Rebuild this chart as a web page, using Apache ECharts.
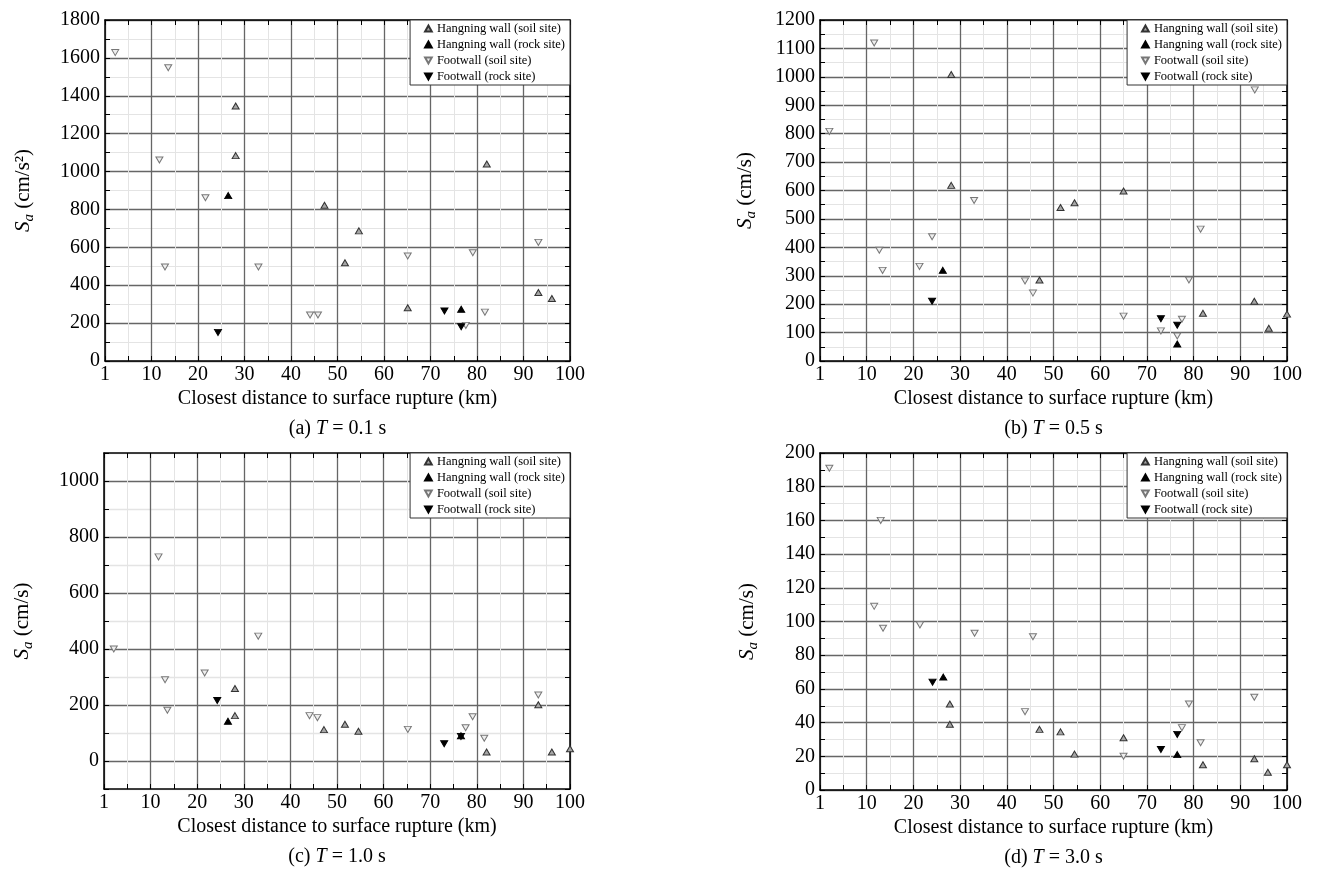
<!DOCTYPE html>
<html>
<head>
<meta charset="utf-8">
<title>Sa - closest distance</title>
<script src="https://cdn.jsdelivr.net/npm/echarts@6/dist/echarts.min.js"></script>
<style>
html,body{margin:0;padding:0;background:#fff;}
#main{width:1317px;height:872px;}
</style>
</head>
<body>
<div id="main"></div>
<script>
// legend / series names
var seriesNames = ['Hangning wall (soil site)', 'Hangning wall (rock site)', 'Footwall (soil site)', 'Footwall (rock site)'];
// x tick labels (the first tick is written as 1)
var xTickLabels = ['1', '10', '20', '30', '40', '50', '60', '70', '80', '90', '100'];
// y tick labels of panel (c)
var yTickLabelsC = ['0', '200', '400', '600', '800', '1000'];

// (a) T = 0.1 s  [distance km, Sa cm/s2]
var hwSoilA = [[28.1,1346],[28.1,1084],[47.2,822],[51.6,519],[54.6,687],[65.1,281],[82.1,1040],[93.2,362],[96.1,330]];
var hwRockA = [[26.5,873],[76.6,273]];
var fwSoilA = [[2.2,1628],[11.7,1061],[12.9,496],[13.6,1548],[21.6,862],[33.0,496],[44.1,243],[45.8,243],[65.1,554],[77.6,188],[79.1,571],[81.7,258],[93.2,626]];
var fwRockA = [[24.3,151],[73.0,264],[76.6,181]];

// (b) T = 0.5 s
var hwSoilB = [[28.1,1008],[28.1,618],[47.0,285],[51.5,540],[54.5,557],[65.0,598],[82.0,168],[93.0,210],[96.1,115],[100,165]];
var hwRockB = [[26.3,319],[76.5,60]];
var fwSoilB = [[2.0,808],[11.6,1119],[12.7,390],[13.4,319],[21.3,333],[24.0,437],[33.0,565],[43.9,282],[45.6,239],[65.0,158],[73.0,106],[76.5,88],[77.5,147],[79.0,285],[81.5,464],[93.1,954]];
var fwRockB = [[24.0,210],[73.0,149],[76.5,126]];

// (c) T = 1.0 s
var hwSoilC = [[28.1,259],[28.1,162],[47.2,112],[51.7,131],[54.6,106],[82.1,32],[93.2,201],[96.1,32],[100,44]];
var hwRockC = [[26.6,142],[76.6,90]];
var fwSoilC = [[2.1,400],[11.7,729],[13.1,290],[13.6,181],[21.6,314],[33.1,446],[44.1,162],[45.8,155],[65.2,113],[77.6,119],[79.1,158],[81.6,81],[93.2,236]];
var fwRockC = [[24.3,216],[73.0,62],[76.6,88]];

// (d) T = 3.0 s
var hwSoilD = [[27.8,51],[27.8,39],[47.0,36],[51.5,34.5],[54.5,21.3],[65.0,31],[82.0,15],[93.0,18.5],[95.9,10.5],[100,15]];
var hwRockD = [[26.4,67],[76.5,21]];
var fwSoilD = [[2.0,191],[11.6,109],[13.0,160],[13.5,96],[21.4,98],[33.1,93],[43.9,46.5],[45.6,91],[65.0,20],[77.5,37],[79.0,51],[81.5,28],[93.0,55]];
var fwRockD = [[24.1,64],[73.0,24],[76.5,33]];

var fontFamily = '"Liberation Serif", "Times New Roman", serif';
var upTri = 'path://M5,0L10,9L0,9Z';
var downTri = 'path://M0,0L10,0L5,9Z';
var seriesStyles = [
	{symbol: upTri, color: '#a6a6a6', border: '#333'},
	{symbol: upTri, color: '#000', border: '#000'},
	{symbol: downTri, color: '#eeeeee', border: '#777'},
	{symbol: downTri, color: '#000', border: '#000'}
];

// layout of the four panels
var panels = [
	{grid: {left: 105, top: 20, width: 465, height: 341}, yMin: 0, yMax: 1800, yStep: 200, unit: '(cm/s²)', nameGap: 68,
		title: '(a) {i|T} = 0.1 s', legendRight: 747, data: [hwSoilA, hwRockA, fwSoilA, fwRockA]},
	{grid: {left: 820, top: 20, width: 467, height: 341}, yMin: 0, yMax: 1200, yStep: 100, unit: '(cm/s)', nameGap: 61,
		title: '(b) {i|T} = 0.5 s', legendRight: 30, data: [hwSoilB, hwRockB, fwSoilB, fwRockB]},
	{grid: {left: 104, top: 453, width: 466, height: 336}, yMin: -100, yMax: 1100, yStep: 100, unit: '(cm/s)', nameGap: 68,
		title: '(c) {i|T} = 1.0 s', legendRight: 747, data: [hwSoilC, hwRockC, fwSoilC, fwRockC], alternate: true},
	{grid: {left: 820, top: 453, width: 467, height: 337}, yMin: 0, yMax: 200, yStep: 20, unit: '(cm/s)', nameGap: 59,
		title: '(d) {i|T} = 3.0 s', legendRight: 30, data: [hwSoilD, hwRockD, fwSoilD, fwRockD]}
];

var majorGrid = '#666';
var minorGrid = '#e4e4e4';

var option = {
	backgroundColor: '#fff',
	animation: false,
	textStyle: {fontFamily: fontFamily},
	title: [], legend: [], grid: [], xAxis: [], yAxis: [], series: []
};

panels.forEach(function(p, i){
	option.grid.push({left: p.grid.left, top: p.grid.top, width: p.grid.width, height: p.grid.height, containLabel: false});

	//横轴 下
	option.xAxis.push({
		type: 'value', gridIndex: i, min: 0, max: 100, interval: 10, position: 'bottom',
		name: 'Closest distance to surface rupture (km)', nameLocation: 'middle', nameGap: 28,
		nameTextStyle: {fontSize: 20, color: '#000', fontFamily: fontFamily},
		axisLine: {show: true, onZero: false, lineStyle: {color: '#000', width: 1.5}},
		axisTick: {show: true, inside: true, length: 5, lineStyle: {color: '#000'}},
		minorTick: {show: true, splitNumber: 2, length: 5, lineStyle: {color: '#000'}},
		axisLabel: {margin: 4, fontSize: 20, color: '#000', fontFamily: fontFamily,
			formatter: function(v){ return xTickLabels[Math.round(v / 10)]; }},
		splitLine: {show: true, lineStyle: {color: majorGrid, width: 1.3}},
		minorSplitLine: {show: true, lineStyle: {color: minorGrid, width: 1}}
	});
	//横轴 上（只画框和刻度）
	option.xAxis.push({
		type: 'value', gridIndex: i, min: 0, max: 100, interval: 10, position: 'top',
		axisLine: {show: true, onZero: false, lineStyle: {color: '#000', width: 1.5}},
		axisTick: {show: true, inside: true, length: 5, lineStyle: {color: '#000'}},
		minorTick: {show: true, splitNumber: 2, length: 5, lineStyle: {color: '#000'}},
		axisLabel: {show: false}, splitLine: {show: false}
	});

	var yLabel = {margin: 5, fontSize: 20, color: '#000', fontFamily: fontFamily,
		formatter: function(v){ return String(v); }};
	if (p.alternate) {
		yLabel.formatter = function(v){ return yTickLabelsC.indexOf(String(v)) >= 0 ? String(v) : ''; };
	}
	//纵轴 左
	option.yAxis.push({
		type: 'value', gridIndex: i, min: p.yMin, max: p.yMax, interval: p.yStep, position: 'left',
		name: '{s|S}{sub|a} ' + p.unit, nameLocation: 'middle', nameRotate: 90, nameGap: p.nameGap,
		nameTextStyle: {fontSize: 21, color: '#000', fontFamily: fontFamily, lineHeight: 28,
			rich: {
				s: {fontSize: 21, fontStyle: 'italic', fontFamily: fontFamily, lineHeight: 28},
				sub: {fontSize: 15, fontStyle: 'italic', fontFamily: fontFamily, lineHeight: 28, verticalAlign: 'bottom'}
			}},
		axisLine: {show: true, onZero: false, lineStyle: {color: '#000', width: 1.5}},
		axisTick: {show: true, inside: true, length: 5, lineStyle: {color: '#000'}},
		minorTick: {show: !p.alternate, splitNumber: 2, length: 5, lineStyle: {color: '#000'}},
		axisLabel: yLabel,
		splitLine: {show: true, lineStyle: {color: p.alternate ? [minorGrid, majorGrid] : majorGrid, width: 1.3}},
		minorSplitLine: {show: !p.alternate, lineStyle: {color: minorGrid, width: 1}}
	});
	//纵轴 右
	option.yAxis.push({
		type: 'value', gridIndex: i, min: p.yMin, max: p.yMax, interval: p.yStep, position: 'right',
		axisLine: {show: true, onZero: false, lineStyle: {color: '#000', width: 1.5}},
		axisTick: {show: true, inside: true, length: 5, lineStyle: {color: '#000'}},
		minorTick: {show: !p.alternate, splitNumber: 2, length: 5, lineStyle: {color: '#000'}},
		axisLabel: {show: false}, splitLine: {show: false}
	});

	p.data.forEach(function(d, k){
		var st = seriesStyles[k];
		option.series.push({
			name: seriesNames[k], type: 'scatter', xAxisIndex: i * 2, yAxisIndex: i * 2,
			symbol: st.symbol, symbolSize: [7, 6], clip: true,
			itemStyle: {color: st.color, borderColor: st.border, borderWidth: 1, opacity: 1},
			data: d
		});
	});

	option.legend.push({
		data: seriesNames, orient: 'vertical', right: p.legendRight, top: p.grid.top,
		selectedMode: false, itemWidth: 7, itemHeight: 6, itemGap: 3,
		padding: [2, 5, 2, 14], borderColor: '#333', borderWidth: 1, borderRadius: 0,
		backgroundColor: '#fff',
		textStyle: {fontSize: 12.5, color: '#000', fontFamily: fontFamily}
	});

	option.title.push({
		text: p.title, left: p.grid.left + p.grid.width / 2, top: p.grid.top + p.grid.height + 58,
		textAlign: 'center', padding: 0,
		textStyle: {fontSize: 20, fontWeight: 'normal', color: '#000', fontFamily: fontFamily,
			rich: {i: {fontSize: 20, fontStyle: 'italic', fontFamily: fontFamily}}}
	});
});

var myChart = echarts.init(document.getElementById('main'));
myChart.setOption(option);
</script>
</body>
</html>
